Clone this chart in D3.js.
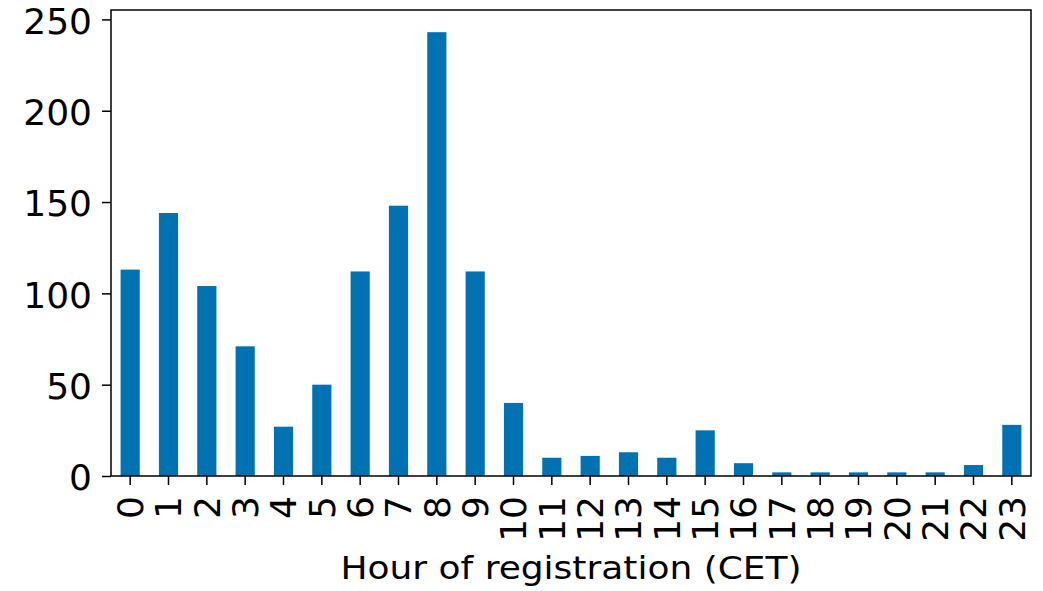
<!DOCTYPE html>
<html>
<head>
<meta charset="utf-8">
<script src="https://cdn.jsdelivr.net/npm/d3@7"></script>
<style>
    body { margin: 0; background: #fff; }
    text { font-family: "DejaVu Sans", sans-serif; fill: #000; }
</style>
</head>
<body>
<svg id="chart"></svg>
<script>
// hour of registration (CET) -> number of registrations
const hours = d3.range(0, 24).map(String);
const counts = [113, 144, 104, 71, 27, 50, 112, 148, 243, 112, 40, 10, 11, 13, 10, 25, 7, 2, 2, 2, 2, 2, 6, 28];
const yTicks = [0, 50, 100, 150, 200, 250];
const xAxisLabel = 'Hour of registration (CET)';

const config = {
    containerWidth: 1043,
    containerHeight: 591,
    margin: {top: 10, right: 12, bottom: 115, left: 111},
    fontSize: 36,
    color: '#0072b2'
};

const width = config.containerWidth - config.margin.left - config.margin.right;
const height = config.containerHeight - config.margin.top - config.margin.bottom;

const svg = d3.select('#chart')
    .attr('width', config.containerWidth)
    .attr('height', config.containerHeight)
    .append('g')
    .attr('transform', `translate(${config.margin.left},${config.margin.top})`);

const xScale = d3.scaleBand()
    .domain(hours)
    .range([0, width])
    .paddingInner(0.5)
    .paddingOuter(0.25);

// matplotlib style 5% headroom
const yScale = d3.scaleLinear()
    .domain([0, d3.max(counts) * 1.05])
    .range([height, 0]);

svg.append('g')
    .selectAll('rect')
    .data(counts)
    .join('rect')
        .attr('x', (d, i) => xScale(hours[i]))
        .attr('y', d => yScale(d))
        .attr('width', xScale.bandwidth())
        .attr('height', d => height - yScale(d))
        .attr('fill', config.color);

const xAxis = d3.axisBottom(xScale).tickSize(9);
const yAxis = d3.axisLeft(yScale).tickValues(yTicks).tickSize(9).tickPadding(10);

const xAxisG = svg.append('g')
    .attr('transform', `translate(0,${height})`)
    .call(xAxis);
xAxisG.select('.domain').remove();
xAxisG.selectAll('line').attr('stroke', '#000').attr('stroke-width', 1.5);
xAxisG.selectAll('text')
    .attr('font-size', config.fontSize)
    .attr('transform', 'rotate(-90)')
    .attr('x', -20)
    .attr('y', 0)
    .attr('dy', '0.36em')
    .style('text-anchor', 'end');

const yAxisG = svg.append('g').call(yAxis);
yAxisG.select('.domain').remove();
yAxisG.selectAll('line').attr('stroke', '#000').attr('stroke-width', 1.5);
yAxisG.selectAll('text')
    .attr('font-size', config.fontSize)
    .attr('dy', '0.38em');

// frame
svg.append('rect')
    .attr('width', width)
    .attr('height', height)
    .attr('fill', 'none')
    .attr('stroke', '#000')
    .attr('stroke-width', 1.5);

// x label looks a bit flattened in the original
svg.append('text')
    .attr('transform', `translate(${width / 2},${height + 103}) scale(1,0.88)`)
    .attr('font-size', config.fontSize)
    .style('text-anchor', 'middle')
    .text(xAxisLabel);
</script>
</body>
</html>
